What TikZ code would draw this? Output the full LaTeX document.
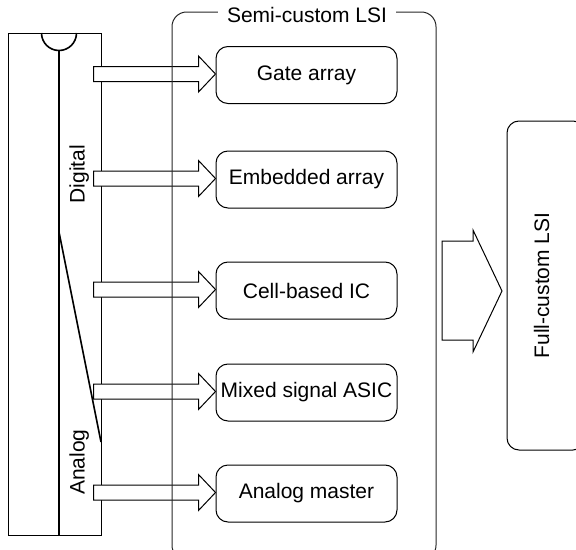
\documentclass[tikz,border=0pt]{standalone}
\usepackage{fontspec}
\setmainfont{Liberation Sans}
\usetikzlibrary{calc}
\begin{document}
\begin{tikzpicture}[x=0.75pt,y=-0.75pt,
  line width=0.75pt,
  lbl/.style={font=\fontsize{15.75}{18}\selectfont, inner sep=0pt},
  sbox/.style={draw, rounded corners=9pt, minimum width=135.75pt, minimum height=42.75pt, inner sep=0pt, font=\fontsize{15.75}{18}\selectfont},
  harrow/.style={draw, fill=white, line join=miter},
  thickln/.style={line width=1.2pt}
]
\useasboundingbox (0,0) rectangle (576,550);
\clip (0,0) rectangle (576,550);

% left bar
\node[draw, minimum width=69.75pt, minimum height=376.5pt, inner sep=0pt] (bar) at (54.5,284) {};
\coordinate (semL) at (41.5,33);
\coordinate (vtop) at (59,50.5);
\coordinate (vbot) at (59,535);
\coordinate (dA) at (59,232);
\coordinate (dB) at (101,442);
\draw[thickln] (semL) arc[start angle=180, end angle=360, radius=13.125pt];
\draw[thickln] (vtop) -- (vbot);
\draw[thickln] (dA) -- (dB);
\node[lbl, rotate=90, anchor=base] (dig) at (84.5,174) {Digital};
\node[lbl, rotate=90, anchor=base] (ana) at (84.5,462) {Analog};

% boxes
\node[sbox] (ga) at (306.5,75) {Gate array};
\node[sbox] (ea) at (306.5,179.5) {Embedded array};
\node[sbox] (cb) at (306.5,290.5) {Cell-based IC};
\node[sbox] (ms) at (306.5,392.5) {Mixed signal ASIC};
\node[sbox] (am) at (306.5,493.5) {Analog master};

% hollow arrows
\foreach \t in {ga,ea,cb,ms,am}{
  \draw[harrow] ($(\t.west)+(-122,-8.5)$) -- ($(\t.west)+(-17,-8.5)$) -- ($(\t.west)+(-17,-19)$)
    -- ($(\t.west)+(0,-1)$) -- ($(\t.west)+(-17,17)$) -- ($(\t.west)+(-17,6.5)$)
    -- ($(\t.west)+(-122,6.5)$) -- cycle;
}

% semi-custom frame
\node[draw, black!85, rounded corners=11pt, minimum width=198pt, minimum height=411pt, inner sep=0pt] (semi) at (304,286) {};
\node[lbl, fill=white, inner xsep=7pt, anchor=base] (semit) at (307,22.5) {Semi-custom LSI};

% full custom
\node[draw, rounded corners=9pt, minimum width=58.5pt, minimum height=246.75pt, inner sep=0pt] (fc) at (546,285.5) {};
\node[lbl, rotate=90] (fct) at (541.5,285.5) {Full-custom LSI};

% big arrow
\coordinate (bt) at (502,291);
\draw[harrow] ($(bt)+(-60,-50)$) -- ($(bt)+(-29,-50)$) -- ($(bt)+(-29,-61)$) -- (bt)
  -- ($(bt)+(-29,61)$) -- ($(bt)+(-29,49)$) -- ($(bt)+(-60,49)$) -- cycle;
\end{tikzpicture}
\end{document}
